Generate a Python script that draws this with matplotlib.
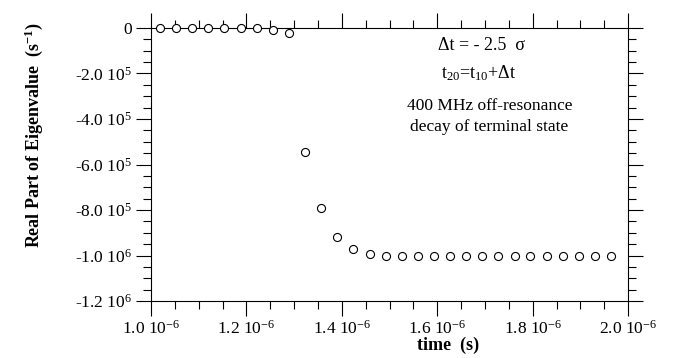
import numpy as np
import matplotlib
matplotlib.use("Agg")
import matplotlib.pyplot as plt
from matplotlib.ticker import MultipleLocator, AutoMinorLocator, FuncFormatter

# time (s) vs real part of eigenvalue (1/s)
time_s = np.array([
    1.019, 1.053, 1.087, 1.120, 1.154, 1.188, 1.222, 1.255, 1.289, 1.323,
    1.357, 1.390, 1.424, 1.458, 1.492, 1.525, 1.559, 1.593, 1.627, 1.660,
    1.694, 1.728, 1.762, 1.795, 1.829, 1.863, 1.897, 1.930, 1.964,
]) * 1e-6
real_eig = np.array([
    -0.0, -0.0, -0.0, -0.0, -0.0, -1.0e3, -1.5e3, -7.0e3, -2.3e4, -5.44e5,
    -7.93e5, -9.20e5, -9.73e5, -9.92e5, -1.0e6, -1.0e6, -1.0e6, -1.0e6,
    -1.0e6, -1.0e6, -1.0e6, -1.0e6, -1.0e6, -1.0e6, -1.0e6, -1.0e6,
    -1.0e6, -1.0e6, -1.0e6,
])

plt.rcParams["font.family"] = ["Liberation Serif", "DejaVu Serif"]
plt.rcParams["mathtext.fontset"] = "custom"
plt.rcParams["mathtext.rm"] = "Liberation Serif"
plt.rcParams["mathtext.it"] = "Liberation Serif:italic"
plt.rcParams["mathtext.bf"] = "Liberation Serif:bold"


def xfmt(v, pos):
    return f"{v * 1e6:.1f} 10$^{{-6}}$"


def yfmt(v, pos):
    if abs(v) < 1:
        return "0"
    e = 6 if abs(v) >= 1e6 - 1 else 5
    return f"{v / 10**e:.1f} 10$^{{{e}}}$"


fig = plt.figure(figsize=(6.74, 3.58), dpi=100)
ax = fig.add_axes([0.224, 0.159, 0.708, 0.763])

ax.plot(time_s, real_eig, "o", mfc="white", mec="black", ms=5.8, mew=0.8,
        clip_on=False, zorder=3)

ax.set_xlim(1.0e-6, 2.0e-6)
ax.set_ylim(-1.2e6, 0)
ax.xaxis.set_major_locator(MultipleLocator(0.2e-6))
ax.xaxis.set_minor_locator(AutoMinorLocator(4))
ax.yaxis.set_major_locator(MultipleLocator(2e5))
ax.yaxis.set_minor_locator(AutoMinorLocator(4))
ax.xaxis.set_major_formatter(FuncFormatter(xfmt))
ax.yaxis.set_major_formatter(FuncFormatter(yfmt))

ax.tick_params(which="both", direction="out", top=True, right=True,
               width=0.8, labelsize=12.5)
ax.tick_params(which="major", length=11, pad=2.5)
ax.tick_params(which="minor", length=5.5)
for s in ax.spines.values():
    s.set_linewidth(0.8)

ax.set_xlabel("time  (s)", fontsize=13, fontweight="bold")
ax.xaxis.set_label_coords(0.623, -0.13)
ax.set_ylabel("Real Part of Eigenvalue  (s$^{\\mathbf{-1}}$)", fontsize=13,
              fontweight="bold")
ax.yaxis.set_label_coords(-0.222, 0.606)

ax.text(0.692, 0.919, "Δt = - 2.5  σ", transform=ax.transAxes, ha="center",
        va="baseline", fontsize=13)
ax.text(0.686, 0.817, "t$_{20}$=t$_{10}$+Δt", transform=ax.transAxes,
        ha="center", va="baseline", fontsize=13)
ax.text(0.709, 0.698, "400 MHz off-resonance", transform=ax.transAxes,
        ha="center", va="baseline", fontsize=12.5)
ax.text(0.709, 0.624, "decay of terminal state", transform=ax.transAxes,
        ha="center", va="baseline", fontsize=12.5)

fig.savefig("out.png", dpi=100)
